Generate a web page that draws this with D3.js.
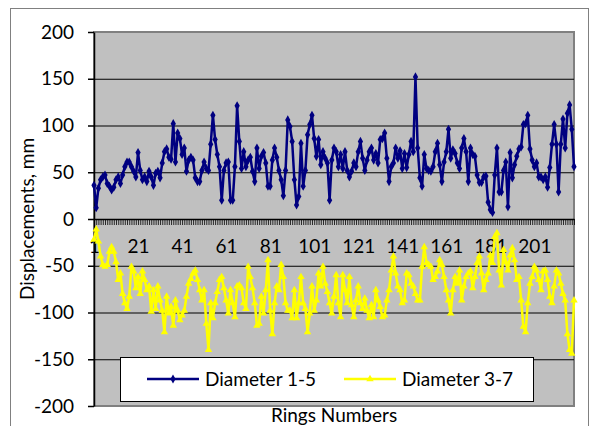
<!DOCTYPE html>
<html>
<head>
<meta charset="utf-8">
<script src="https://cdn.jsdelivr.net/npm/d3@7"></script>
<style>
  body { margin: 0; background: #fff; }
  svg { display: block; }
  text { font-family: Lato, "Open Sans", sans-serif; fill: #000; }
</style>
</head>
<body>
<script>
// ring numbers (categories) and label positions
const rings = d3.range(1, 220);
const xTickLabels = [1, 21, 41, 61, 81, 101, 121, 141, 161, 181, 201];
const yTicks = [-200, -150, -100, -50, 0, 50, 100, 150, 200];

// Diameter 1-5, mm
const diameter15 = [
  36, 12, 33, 42, 45, 47, 38, 35, 31, 34,
  42, 45, 38, 47, 56, 61, 61, 56, 51, 45,
  71, 52, 42, 45, 40, 51, 45, 36, 49, 51,
  44, 60, 72, 75, 66, 64, 102, 61, 92, 86,
  69, 76, 51, 63,
  66, 63, 44, 40, 40, 52, 61, 54, 52, 80,
  111, 85, 69, 56, 20, 52, 60, 61, 20, 20,
  56, 121, 83, 54, 72, 56, 63, 66, 51, 40,
  76, 54, 67, 71, 60, 35, 35, 63, 76, 66,
  52, 42, 25, 52, 106,
  99, 83, 42, 15, 24, 81, 35, 52, 90, 101,
  111, 86, 67, 85, 58, 72, 65, 60, 20, 63,
  76, 72, 56, 69, 54, 72, 52, 45, 51, 60,
  56, 72, 83, 65, 52, 63, 72, 76, 63, 70,
  60, 85,
  86, 92, 65, 40, 56, 60, 76, 65, 73, 54,
  70, 55, 69, 83, 72, 152, 76, 44, 35, 69,
  54, 52, 51, 56, 72, 81, 58, 40, 61, 72,
  96, 65, 74, 70, 60, 54, 76, 86, 72, 40,
  76, 69, 67, 47,
  39, 39, 45, 46, 18, 10, 7, 47, 76, 29,
  29, 52, 61, 13, 71, 44, 58, 67, 75, 77,
  101, 102, 111, 75, 63, 56, 60, 45, 45, 42,
  45, 34, 55, 80, 101, 80, 29, 80, 107, 76,
  113, 122, 96, 56
];

// Diameter 3-7, mm
const diameter37 = [
  -22, -11, -24, -40, -49, -51, -49, -35, -30, -35,
  -46, -65, -58, -80, -90, -96, -83, -51, -56, -74,
  -62, -80, -56, -65, -76, -72, -99, -76, -96, -72,
  -87, -98, -121, -83, -101, -94, -114, -87, -98, -108,
  -103, -98, -83, -69,
  -64, -58, -55, -65, -76, -87, -76, -112, -140, -90,
  -106, -90, -78, -65, -62, -74, -87, -101, -76, -90,
  -105, -72, -71, -74, -90, -96, -51, -62, -74, -90,
  -114, -112, -83, -101, -76, -44, -98, -123, -90, -72,
  -76, -49, -62, -90, -98,
  -98, -106, -76, -106, -90, -62, -90, -96, -121, -101,
  -72, -98, -87, -58, -72, -51, -69, -78, -90, -101,
  -83, -60, -90, -105, -60, -76, -90, -62, -92, -105,
  -87, -72, -90, -96, -85, -98, -106, -92, -105, -76,
  -87, -94,
  -105, -103, -87, -76, -55, -40, -58, -72, -76, -90,
  -87, -58, -60, -69, -72, -80, -87, -87, -51, -30,
  -47, -49, -51, -65, -62, -56, -44, -49, -62, -76,
  -87, -101, -76, -62, -69, -55, -87, -72, -62, -58,
  -56, -74, -62, -47,
  -40, -58, -76, -65, -58, -39, -47, -19, -15, -55,
  -71, -33, -46, -55, -39, -31, -44, -65, -62, -87,
  -115, -121, -90, -69, -62, -51, -55, -65, -76, -56,
  -55, -65, -83, -90, -72, -55, -58, -69, -80, -87,
  -123, -140, -144, -87
];

const series = [
  { name: "Diameter 1-5", values: diameter15, color: "#000080", marker: d3.symbolDiamond },
  { name: "Diameter 3-7", values: diameter37, color: "#FFFF00", marker: d3.symbolTriangle }
];

const width = 600;
const height = 426;
const fontSize = "19px";
const plot = { left: 94, right: 574, top: 32, bottom: 406 };

const x = d3.scalePoint()
            .domain(rings)
            .range([plot.left, plot.right]);
const y = d3.scaleLinear()
            .domain([-200, 200])
            .range([plot.bottom, plot.top]);

const svg = d3.select("body").append("svg")
              .attr("width", width)
              .attr("height", height);

// chart area frame
svg.append("rect")
   .attr("x", 10.5).attr("y", 8.5)
   .attr("width", 578).attr("height", 440)
   .attr("fill", "#fff")
   .attr("stroke", "#808080")
   .attr("stroke-width", 1);

// plot area
svg.append("rect")
   .attr("x", plot.left).attr("y", plot.top)
   .attr("width", plot.right - plot.left).attr("height", plot.bottom - plot.top)
   .attr("fill", "#C0C0C0")
   .attr("stroke", "#808080")
   .attr("stroke-width", 2);

// gridlines
svg.append("g")
   .attr("class", "grid")
   .attr("transform", "translate(" + plot.left + ",0)")
   .call(d3.axisLeft(y).tickValues(yTicks.filter(d => d !== 200 && d !== -200)).tickSize(-(plot.right - plot.left)).tickFormat(""))
   .call(g => g.select(".domain").remove())
   .call(g => g.selectAll("line").attr("stroke", "#000").attr("stroke-width", 1));

// y axis
svg.append("g")
   .attr("class", "y axis")
   .attr("transform", "translate(" + plot.left + ",0)")
   .call(d3.axisLeft(y).tickValues(yTicks).tickSize(6).tickPadding(14).tickSizeOuter(0)
           .tickFormat(d => String(d)))
   .call(g => g.selectAll("text").style("font-size", fontSize).style("font-family", "Lato, sans-serif"))
   .call(g => g.selectAll("line,path").attr("stroke", "#000").attr("stroke-width", 1.5));

// x axis at zero
svg.append("g")
   .attr("class", "x axis")
   .attr("transform", "translate(0," + y(0) + ")")
   .call(d3.axisBottom(x).tickValues(rings).tickSize(6).tickPadding(15).tickSizeOuter(0)
           .tickFormat(d => xTickLabels.includes(d) ? String(d) : ""))
   .call(g => g.selectAll("text").style("font-size", fontSize).style("font-family", "Lato, sans-serif"))
   .call(g => g.selectAll("line").attr("stroke", "#000").attr("stroke-width", 0.8))
   .call(g => g.select(".domain").attr("stroke", "#000").attr("stroke-width", 1.5));

const line = d3.line()
               .x((d, i) => x(rings[i]))
               .y(d => y(d));

series.forEach(s => {
  svg.append("path")
     .attr("d", line(s.values))
     .attr("fill", "none")
     .attr("stroke", s.color)
     .attr("stroke-width", 2.5)
     .attr("stroke-linejoin", "round");
  svg.append("g")
     .selectAll("path")
     .data(s.values)
     .join("path")
     .attr("transform", (d, i) => "translate(" + x(rings[i]) + "," + y(d) + ")")
     .attr("d", d3.symbol().type(s.marker).size(24))
     .attr("fill", s.color);
});

// legend
const legend = svg.append("g").attr("class", "legend");
legend.append("rect")
      .attr("x", 120.5).attr("y", 357.5)
      .attr("width", 413).attr("height", 44)
      .attr("fill", "#fff")
      .attr("stroke", "#000")
      .attr("stroke-width", 1);
const legendX = [147, 344];
series.forEach((s, i) => {
  const lx = legendX[i];
  legend.append("line")
        .attr("x1", lx).attr("x2", lx + 52)
        .attr("y1", 379).attr("y2", 379)
        .attr("stroke", s.color)
        .attr("stroke-width", 2.5);
  legend.append("path")
        .attr("transform", "translate(" + (lx + 26) + ",379)")
        .attr("d", d3.symbol().type(s.marker).size(24))
        .attr("fill", s.color);
  legend.append("text")
        .attr("x", lx + 58).attr("y", 386)
        .style("font-size", fontSize)
        .text(s.name);
});

// axis titles
svg.append("text")
   .attr("transform", "translate(34," + ((plot.top + plot.bottom) / 2) + ") rotate(-90)")
   .attr("text-anchor", "middle")
   .style("font-size", fontSize)
   .text("Displacements, mm");

svg.append("text")
   .attr("x", (plot.left + plot.right) / 2)
   .attr("y", 422)
   .attr("text-anchor", "middle")
   .style("font-size", fontSize)
   .text("Rings Numbers");
</script>
</body>
</html>
